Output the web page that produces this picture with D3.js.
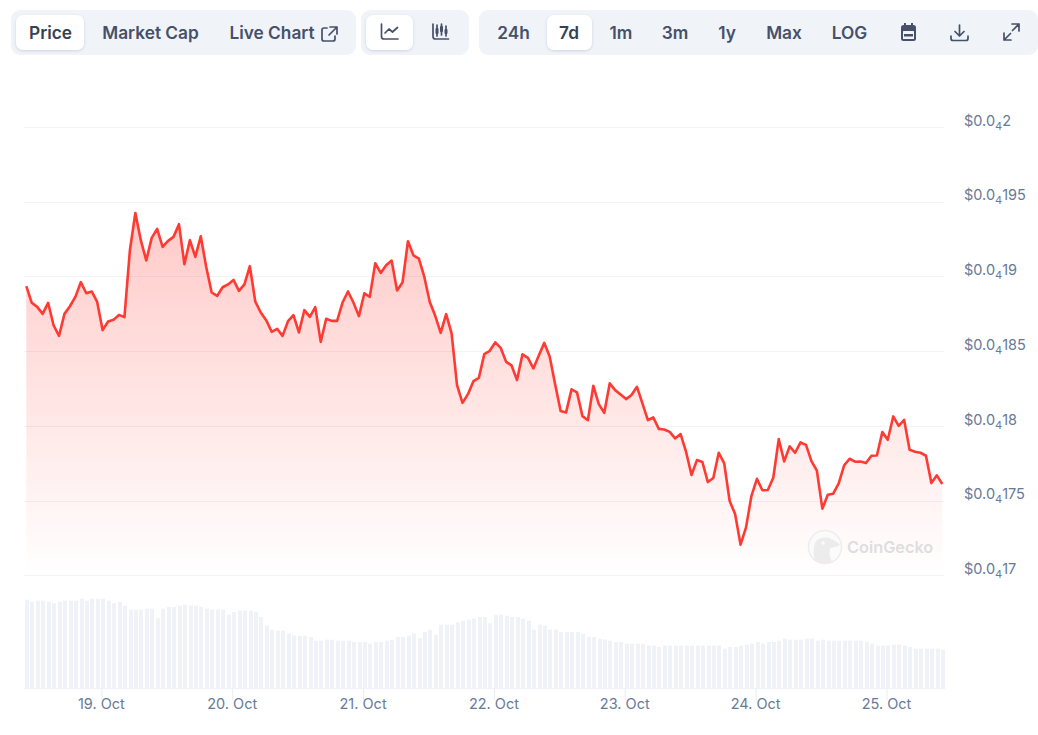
<!DOCTYPE html>
<html lang="en">
<head>
    <meta charset="UTF-8">
    <title>Price chart</title>
    <script src="https://d3js.org/d3.v7.min.js"></script>
    <style>
        html, body { margin: 0; padding: 0; background: #fff; overflow: hidden; }
        svg { display: block; }
        text { font-family: Inter, "Noto Sans", sans-serif; }
        .btn { font-size: 17.3px; font-weight: 600; fill: #465069; text-anchor: middle; }
        .btn.active { fill: #364152; }
        .axis text { font-size: 14.5px; fill: #677a96; }
        .axis .domain { display: none; }
        .icon { fill: none; stroke: #465069; stroke-width: 1.7; stroke-linecap: round; stroke-linejoin: round; }
    </style>
</head>
<body>
<script>
    const width = 1038;
    const height = 735;

    // prices in units of 0.0000001 (so 195 is $0.0000195, written $0.0₄195)
    const prices = [
        189.35, 188.24, 187.97, 187.50, 188.24, 186.74, 186.03, 187.50, 188.01, 188.64,
        189.62, 188.88, 189.00, 188.30, 186.41, 186.99, 187.10, 187.43, 187.28, 191.76,
        194.25, 192.43, 191.07, 192.58, 193.18, 191.98, 192.38, 192.65, 193.50, 190.82,
        192.43, 191.31, 192.69, 190.64, 188.93, 188.70, 189.28, 189.47, 189.77, 189.04,
        189.47, 190.69, 188.32, 187.59, 187.08, 186.30, 186.50, 186.03, 187.01, 187.41,
        186.26, 187.75, 187.30, 187.95, 185.63, 187.17, 187.03, 187.03, 188.26, 189.00,
        188.26, 187.35, 188.88, 188.64, 190.89, 190.24, 190.76, 191.07, 189.06, 189.60,
        192.36, 191.42, 191.20, 189.97, 188.30, 187.37, 186.23, 187.48, 186.19, 182.73,
        181.55, 182.13, 183.00, 183.22, 184.81, 185.03, 185.59, 185.23, 184.29, 184.05,
        183.07, 184.79, 184.56, 183.85, 184.72, 185.56, 184.63, 182.78, 181.00, 180.91,
        182.45, 182.25, 180.66, 180.39, 182.69, 181.46, 180.88, 182.85, 182.40, 182.11,
        181.80, 182.07, 182.62, 181.51, 180.39, 180.57, 179.81, 179.77, 179.61, 179.17,
        179.46, 178.28, 176.72, 177.72, 177.59, 176.25, 176.52, 178.21, 177.50, 174.98,
        174.11, 172.06, 173.22, 175.33, 176.47, 175.70, 175.72, 176.54, 179.12, 177.63,
        178.64, 178.21, 178.90, 178.74, 177.65, 177.01, 174.47, 175.40, 175.47, 176.16,
        177.37, 177.81, 177.61, 177.63, 177.52, 178.01, 178.03, 179.59, 179.08, 180.64,
        180.01, 180.41, 178.41, 178.28, 178.21, 178.01, 176.18, 176.70, 176.12
    ];

    // relative volume
    const volumes = [
        88.3, 86.3, 87.3, 87.3, 86, 84.7, 86, 87.3, 87.3, 87.3,
        89.3, 87.3, 89.3, 89.3, 89.3, 87.3, 84.7, 86, 82.3, 78.3,
        78.3, 78.3, 79.3, 79.3, 69.7, 79.3, 81, 81, 82.3, 83.3,
        82.3, 82.3, 81, 79.3, 78.3, 78.3, 78.3, 73.3, 76, 77.3,
        77.3, 77.3, 76, 71, 62.3, 58.3, 57.3, 57.3, 54.3, 52.3,
        52.3, 52.3, 51, 47.3, 47.3, 48.3, 48.3, 47.3, 47.3, 47.3,
        46, 46, 46, 44.3, 46, 46, 47.3, 48.3, 51, 51,
        52.3, 54.3, 49.7, 56, 58.3, 53.3, 63.3, 63.3, 63.3, 65.7,
        67, 68.3, 69.3, 71, 71, 64.7, 73.3, 73.3, 72.3, 71,
        71, 69.3, 67.3, 58.3, 63.3, 62.3, 58.3, 58.3, 56, 56,
        56, 56, 54.3, 51, 51, 49, 48.3, 47.3, 46, 46,
        44.3, 44.3, 44.3, 44.3, 42.3, 42.3, 41, 42.3, 42.3, 42.3,
        42.3, 42.3, 42.3, 42.3, 42.3, 42.3, 42.3, 42.3, 39.3, 41,
        41, 42.3, 43.3, 44.3, 46, 44.3, 46, 46, 47.3, 49.3,
        48.3, 48.3, 48.3, 49.3, 49.3, 47.3, 48.3, 47.3, 47.3, 47.3,
        47.3, 47.3, 47.3, 47.3, 46, 44.3, 42.3, 42.3, 42.3, 43.3,
        43.3, 42.3, 41, 39.3, 39.3, 39.3, 39.3, 39.3, 38.3
    ];

    const startTime = Date.UTC(2024, 9, 18, 10, 14);
    const hour = 3600 * 1000;
    const times = prices.map((d, i) => new Date(startTime + i * hour));

    const priceTicks = [170, 175, 180, 185, 190, 195, 200];
    const priceTickDigits = ["17", "175", "18", "185", "19", "195", "2"];
    const dayTicks = [19, 20, 21, 22, 23, 24, 25];

    const priceTabs = ["Price", "Market Cap", "Live Chart"];
    const rangeTabs = ["24h", "7d", "1m", "3m", "1y", "Max", "LOG"];

    const svg = d3.select("body").append("svg")
            .attr("width", width).attr("height", height);

    const defs = svg.append("defs");
    const fade = defs.append("linearGradient")
            .attr("id", "fade")
            .attr("gradientUnits", "userSpaceOnUse")
            .attr("x1", 0).attr("x2", 0).attr("y1", 212).attr("y2", 576);
    fade.append("stop").attr("offset", 0).attr("stop-color", "#ff3a33").attr("stop-opacity", .27);
    fade.append("stop").attr("offset", 1).attr("stop-color", "#ff3a33").attr("stop-opacity", 0);

    const shadow = defs.append("filter").attr("id", "shadow")
            .attr("x", "-20%").attr("y", "-20%").attr("width", "140%").attr("height", "150%");
    shadow.append("feDropShadow").attr("dx", 0).attr("dy", 1).attr("stdDeviation", 1.5)
            .attr("flood-color", "#94a3b8").attr("flood-opacity", .4);

    const x = d3.scaleTime()
            .domain([times[0], times[times.length - 1]])
            .range([26.3, 942.3]);
    const y = d3.scaleLinear().domain([170, 200]).range([575.5, 127]);
    const volumeY = d3.scaleLinear().domain([0, 88]).range([688, 600]);

    drawToolbar();
    drawGrid();
    drawVolume();
    drawPrice();
    drawWatermark();
    drawAxes();

    function drawGrid() {
        const crisp = d => Math.round(y(d) - .01) + .5;
        svg.append("g").attr("class", "grid")
                .selectAll("line")
                .data(priceTicks)
                .enter()
                .append("line")
                .attr("x1", 24).attr("x2", 944)
                .attr("y1", crisp).attr("y2", crisp)
                .style("stroke", "#f0f3f8")
                .style("stroke-width", 1);
    }

    function drawVolume() {
        svg.append("g").attr("class", "volume")
                .selectAll("rect")
                .data(volumes)
                .enter()
                .append("rect")
                .attr("x", (d, i) => Math.round(x(times[i]) - 1.3))
                .attr("width", 4)
                .attr("y", d => volumeY(d))
                .attr("height", d => volumeY(0) - volumeY(d))
                .style("fill", "#eff2f6");
    }

    function drawPrice() {
        const area = d3.area()
                .x((d, i) => x(times[i]))
                .y0(y(170))
                .y1(d => y(d));
        const line = d3.line()
                .x((d, i) => x(times[i]))
                .y(d => y(d));
        svg.append("path").datum(prices)
                .attr("d", area)
                .style("fill", "url(#fade)");
        svg.append("path").datum(prices)
                .attr("d", line)
                .style("fill", "none")
                .style("stroke", "#ff3a33")
                .style("stroke-width", 2.6)
                .style("stroke-linejoin", "round");
    }

    function drawAxes() {
        const dayAxis = d3.axisBottom(x)
                .tickValues(dayTicks.map(d => new Date(Date.UTC(2024, 9, d))))
                .tickFormat(d3.utcFormat("%-d. %b"))
                .tickSize(12)
                .tickPadding(-1);
        const dayG = svg.append("g").attr("class", "axis")
                .attr("transform", `translate(0,${volumeY(0)})`)
                .call(dayAxis);
        dayG.selectAll("line").style("stroke", "#e9edf3");
        dayG.selectAll("text").attr("y", 11).attr("dx", -.5);

        svg.append("line")
                .attr("x1", 24).attr("x2", 945)
                .attr("y1", 688.5).attr("y2", 688.5)
                .style("stroke", "#eff2f6");

        const priceAxis = d3.axisRight(y)
                .tickValues(priceTicks)
                .tickSize(0)
                .tickFormat("");
        const priceG = svg.append("g").attr("class", "axis")
                .attr("transform", "translate(964,0)")
                .call(priceAxis);
        const label = priceG.selectAll(".tick text")
                .attr("x", 0)
                .attr("dy", null)
                .attr("y", -2);
        label.append("tspan").text("$0.0");
        label.append("tspan").attr("dy", 4).style("font-size", "11px").text("4");
        label.append("tspan").attr("dy", -4).text((d, i) => priceTickDigits[i]);
    }

    function drawToolbar() {
        const bar = svg.append("g").attr("class", "toolbar");
        const panels = [[11, 345], [361, 108], [479, 559]];
        bar.selectAll("rect.panel")
                .data(panels)
                .enter()
                .append("rect")
                .attr("class", "panel")
                .attr("x", d => d[0]).attr("y", 10)
                .attr("width", d => d[1]).attr("height", 45)
                .attr("rx", 9)
                .style("fill", "#f0f4f9");

        const actives = [[16, 68], [366, 47], [547, 45]];
        bar.selectAll("rect.active")
                .data(actives)
                .enter()
                .append("rect")
                .attr("class", "active")
                .attr("x", d => d[0]).attr("y", 15)
                .attr("width", d => d[1]).attr("height", 35)
                .attr("rx", 7)
                .style("fill", "#fff")
                .attr("filter", "url(#shadow)");

        const tabX = [50.5, 150.5, 272];
        bar.selectAll("text.price-tab")
                .data(priceTabs)
                .enter()
                .append("text")
                .attr("class", (d, i) => i == 0 ? "btn active price-tab" : "btn price-tab")
                .attr("x", (d, i) => tabX[i]).attr("y", 38.5)
                .text(d => d);

        const rangeX = [513.5, 569, 621, 675, 727, 784, 849.5];
        bar.selectAll("text.range-tab")
                .data(rangeTabs)
                .enter()
                .append("text")
                .attr("class", (d, i) => i == 1 ? "btn active range-tab" : "btn range-tab")
                .attr("x", (d, i) => rangeX[i]).attr("y", 38.5)
                .text(d => d);

        const icons = [
            "M327 28h-3a2 2 0 0 0-2 2v9a2 2 0 0 0 2 2h9a2 2 0 0 0 2-2v-3 M330 27h7v7 M337 27l-8 8",
            "M381.5 24v12.5a2.5 2.5 0 0 0 2.5 2.5h14 M385 33l4-4 3.5 3 5-4.5",
            "M433 24v12.500a2.500 2.500 0 0 0 2.500 2.500h13 M437 25v11 M441.500 24v11 M446 26v10",
            "M951 36v2.500a2 2 0 0 0 2 2h13a2 2 0 0 0 2-2v-2.500 M959.500 25v11 M955 31.500l4.500 4.500 4.500-4.500",
            "M1004 33v7h7 M1004 40l6.500-6.500 M1019 31v-7h-7 M1019 24l-6.500 6.500"
        ];
        bar.selectAll("path.icon")
                .data(icons)
                .enter()
                .append("path")
                .attr("class", "icon")
                .attr("d", d => d);

        // candle bodies on the second chart icon
        bar.selectAll("rect.candle")
                .data([[435.500, 28, 3, 6], [440, 26, 3, 6], [444.500, 29, 3, 5]])
                .enter()
                .append("rect")
                .attr("class", "candle")
                .attr("x", d => d[0]).attr("y", d => d[1])
                .attr("width", d => d[2]).attr("height", d => d[3])
                .attr("rx", 1)
                .style("fill", "#465069");

        // calendar
        bar.append("rect").attr("x", 901).attr("y", 25).attr("width", 15).attr("height", 16).attr("rx", 2.5)
                .style("fill", "#465069");
        bar.append("rect").attr("x", 903).attr("y", 31).attr("width", 11).attr("height", 8).attr("rx", .5)
                .style("fill", "#f0f4f9");
        bar.append("rect").attr("x", 904).attr("y", 34).attr("width", 9).attr("height", 2.500)
                .style("fill", "#465069");
        bar.selectAll("rect.ring")
                .data([904, 911])
                .enter()
                .append("rect")
                .attr("class", "ring")
                .attr("x", d => d).attr("y", 23).attr("width", 2).attr("height", 4)
                .style("fill", "#465069");
    }

    function drawWatermark() {
        const mark = svg.append("g").attr("class", "watermark");
        mark.append("circle")
                .attr("cx", 825).attr("cy", 547).attr("r", 16.5)
                .style("fill", "#fbfbfb")
                .style("stroke", "#ededed")
                .style("stroke-width", 1.5);
        mark.append("path")
                .attr("d", "M815 561c-2-9-2-17 2-21 4-3 11-4 14-1 3 1 7 3 9 6-3 2-7 2-10 3-1 5 0 10 2 14-5 2-12 2-17-1z")
                .style("fill", "#ececec");
        mark.append("circle")
                .attr("cx", 823).attr("cy", 543).attr("r", 1.8)
                .style("fill", "#fbfbfb");
        mark.append("text")
                .attr("x", 847).attr("y", 552.500)
                .style("font-size", "16.300px")
                .style("font-weight", 600)
                .style("fill", "#dedede")
                .text("CoinGecko");
    }
</script>

</body>
</html>
